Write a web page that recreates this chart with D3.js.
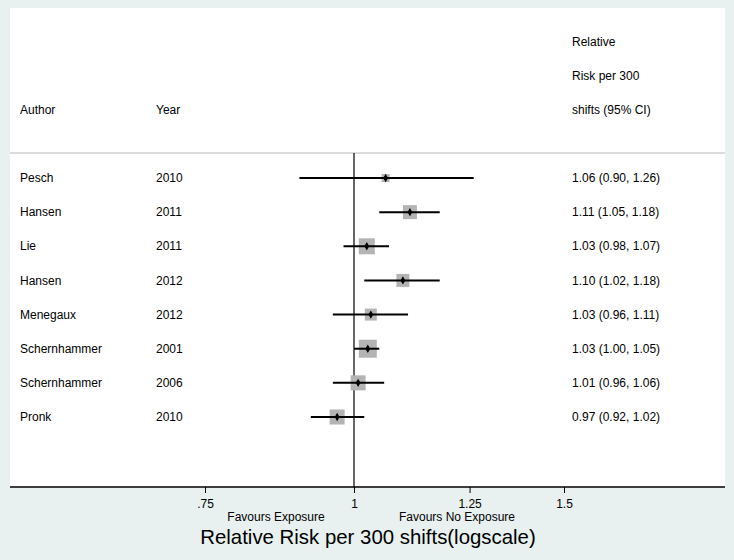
<!DOCTYPE html>
<html>
<head>
<meta charset="utf-8">
<script src="https://cdn.jsdelivr.net/npm/d3@7"></script>
<style>
  body { margin: 0; background: #e8f1f0; }
  svg { display: block; font-family: "Liberation Sans", Arial, sans-serif; }
</style>
</head>
<body>
<svg width="734" height="560"></svg>
<script>
// Study data
const authors = ["Pesch", "Hansen", "Lie", "Hansen", "Menegaux", "Schernhammer", "Schernhammer", "Pronk"];
const years = ["2010", "2011", "2011", "2012", "2012", "2001", "2006", "2010"];
const rr = [1.063, 1.114, 1.025, 1.099, 1.033, 1.027, 1.008, 0.968];
const lower = [0.90, 1.05, 0.98, 1.02, 0.96, 1.00, 0.96, 0.92];
const upper = [1.26, 1.18, 1.07, 1.18, 1.11, 1.05, 1.06, 1.02];
const weights = [8, 14, 16, 13, 12, 18, 15, 15];
const rrLabels = ["1.06 (0.90, 1.26)", "1.11 (1.05, 1.18)", "1.03 (0.98, 1.07)", "1.10 (1.02, 1.18)",
  "1.03 (0.96, 1.11)", "1.03 (1.00, 1.05)", "1.01 (0.96, 1.06)", "0.97 (0.92, 1.02)"];
const xTicks = [0.75, 1, 1.25, 1.5];
const headerLines = ["Relative", "Risk per 300", "shifts (95% CI)"];

const svg = d3.select("svg");
const panel = { left: 10, right: 725, top: 8, bottom: 487 };

// log scale for relative risk
const x = d3.scaleLog().domain([0.75, 1.5]).range([205, 564]);
// row index -> y (header rows are negative)
const y = d3.scaleLinear().domain([0, 7]).range([178, 417]);

svg.append("rect")
  .attr("x", panel.left).attr("y", panel.top)
  .attr("width", panel.right - panel.left).attr("height", panel.bottom - panel.top)
  .attr("fill", "#fff");

// header
const colAuthor = 20, colYear = 156, colRR = 572;
svg.append("text").attr("x", colAuthor).attr("y", y(-2)).attr("dy", "0.35em")
  .attr("font-size", 12).text("Author");
svg.append("text").attr("x", colYear).attr("y", y(-2)).attr("dy", "0.35em")
  .attr("font-size", 12).text("Year");
headerLines.forEach((t, i) => {
  svg.append("text").attr("x", colRR).attr("y", y(i - 4)).attr("dy", "0.35em")
    .attr("font-size", 12).text(t);
});

svg.append("line")
  .attr("x1", panel.left).attr("x2", panel.right)
  .attr("y1", 153).attr("y2", 153)
  .attr("stroke", "#b8b8b8").attr("stroke-width", 1);

// null line
svg.append("line")
  .attr("x1", x(1)).attr("x2", x(1))
  .attr("y1", 153).attr("y2", panel.bottom)
  .attr("stroke", "#000").attr("stroke-width", 1.2);

const rows = d3.range(rr.length);

const g = svg.append("g");
g.selectAll("rect.w").data(rows).join("rect")
  .attr("class", "w")
  .attr("x", (i) => x(rr[i]) - weights[i] / 2)
  .attr("y", (i) => y(i) - weights[i] / 2)
  .attr("width", (i) => weights[i])
  .attr("height", (i) => weights[i])
  .attr("fill", "#b4b4b4");

g.selectAll("line.ci").data(rows).join("line")
  .attr("class", "ci")
  .attr("x1", (i) => x(lower[i])).attr("x2", (i) => x(upper[i]))
  .attr("y1", (i) => y(i)).attr("y2", (i) => y(i))
  .attr("stroke", "#000").attr("stroke-width", 2);

g.selectAll("path.pt").data(rows).join("path")
  .attr("class", "pt")
  .attr("d", d3.symbol(d3.symbolDiamond, 20))
  .attr("transform", (i) => `translate(${x(rr[i])},${y(i)})`)
  .attr("fill", "#000");

// row text
const textRows = svg.append("g").attr("font-size", 12);
textRows.selectAll("text.a").data(rows).join("text")
  .attr("class", "a").attr("x", colAuthor).attr("y", (i) => y(i)).attr("dy", "0.35em")
  .text((i) => authors[i]);
textRows.selectAll("text.yr").data(rows).join("text")
  .attr("class", "yr").attr("x", colYear).attr("y", (i) => y(i)).attr("dy", "0.35em")
  .text((i) => years[i]);
textRows.selectAll("text.rr").data(rows).join("text")
  .attr("class", "rr").attr("x", colRR).attr("y", (i) => y(i)).attr("dy", "0.35em")
  .text((i) => rrLabels[i]);

// x axis
const axis = svg.append("g").attr("transform", `translate(0,${panel.bottom})`)
  .call(d3.axisBottom(x).tickValues(xTicks).tickSize(6).tickPadding(6)
    .tickFormat((d) => (d < 1 ? String(d).replace(/^0/, "") : String(d))));
axis.select(".domain").remove();
axis.selectAll("text").attr("font-size", 12).attr("font-family", "Liberation Sans, Arial, sans-serif").attr("fill", "#000");
axis.selectAll("line").attr("stroke", "#000");

svg.append("line")
  .attr("x1", panel.left).attr("x2", panel.right)
  .attr("y1", panel.bottom).attr("y2", panel.bottom)
  .attr("stroke", "#000").attr("stroke-width", 1.5);

svg.append("text").attr("x", 276).attr("y", 521).attr("text-anchor", "middle")
  .attr("font-size", 12).text("Favours Exposure");
svg.append("text").attr("x", 457).attr("y", 521).attr("text-anchor", "middle")
  .attr("font-size", 12).text("Favours No Exposure");
svg.append("text").attr("x", 368).attr("y", 544).attr("text-anchor", "middle")
  .attr("font-size", 20.4).text("Relative Risk per 300 shifts(logscale)");
</script>
</body>
</html>
